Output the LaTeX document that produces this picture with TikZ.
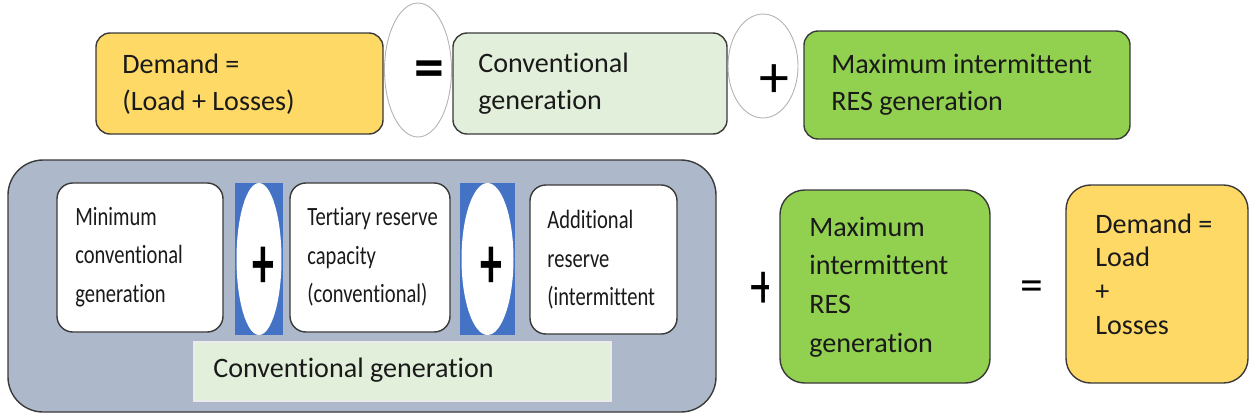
\documentclass[tikz,border=0pt]{standalone}
\usepackage{fontspec}
\setmainfont{Carlito}[Ligatures=NoCommon]
\newfontfamily\narrowfont{Carlito}[FakeStretch=0.78, Ligatures=NoCommon]
\usetikzlibrary{shapes.geometric,fit}

\definecolor{demandfill}{HTML}{FFD966}
\definecolor{convfill}{HTML}{E2EFDA}
\definecolor{resfill}{HTML}{92D050}
\definecolor{groupfill}{HTML}{ADB9CA}
\definecolor{opfill}{HTML}{4472C4}
\definecolor{edge}{HTML}{3A3A3A}
\definecolor{ink}{HTML}{1A1A1A}

\tikzset{
  box/.style={draw=edge, line width=0.8pt, rounded corners=8pt, inner sep=0pt},
  whitebox/.style={box, fill=white, rounded corners=9pt},
  txt/.style={anchor=west, align=left, inner sep=0pt, text=ink,
    font=\fontsize{16}{21}\selectfont},
  smalltxt/.style={anchor=west, align=left, inner sep=0pt, text=ink,
    font=\narrowfont\fontsize{15}{22}\selectfont},
  oval/.style={ellipse, draw=black!30, line width=0.5pt, fill=white, inner sep=0pt},
  opbar/.style={fill=opfill, draw=none, inner sep=0pt},
  opoval/.style={ellipse, fill=white, draw=none, inner sep=0pt},
  sym/.style={inner sep=0pt, text=black},
  tallplus/.style={sym, font=\fontsize{25}{25}\selectfont\bfseries, yscale=1.7},
}

\begin{document}
\begin{tikzpicture}[x=0.02cm, y=-0.02cm]
\useasboundingbox (0,0) rectangle (1250,417);

% ---- top equation ----
\node (dem1) [box, fill=demandfill, fit={(96,33) (383,134)}] {};
\node (dem1t) [txt] at (122,84) {Demand =\\(Load + Losses)};

\node (eqov) [oval, minimum width=1.34cm, minimum height=2.68cm] at (418,70) {};
\node (eqs) [sym, font=\fontsize{34}{34}\selectfont\bfseries] at (429,74) {=};

\node (conv1) [box, fill=convfill, fit={(453,33) (727,134)}] {};
\node (conv1t) [txt] at (478,84) {Conventional\\generation};

\node (plov) [oval, minimum width=1.4cm, minimum height=2.08cm] at (763,66) {};
\node (pls) [sym, font=\fontsize{34}{34}\selectfont] at (774,81) {+};

\node (res1) [box, fill=resfill, fit={(804,31) (1130,139)}] {};
\node (res1t) [txt] at (831,85) {Maximum intermittent\\RES generation};

% ---- bottom equation ----
\node (grp) [box, fill=groupfill, rounded corners=20pt, fit={(8,160) (716,412)}] {};

\node (minc) [whitebox, fit={(57,183) (223,332)}] {};
\node (minct) [smalltxt] at (75,257) {Minimum\\conventional\\generation};

\node (op1) [opbar, fit={(235,183) (283,335)}] {};
\node (op1o) [opoval, minimum width=0.9cm, minimum height=3.04cm] at (259,259) {};
\node (op1s) [tallplus] at (263,268) {+};

\node (tert) [whitebox, fit={(290,183) (450,332)}] {};
\node (tertt) [smalltxt] at (307,257) {Tertiary reserve\\capacity\\(conventional)};

\node (op2) [opbar, fit={(460,183) (515,335)}] {};
\node (op2o) [opoval, minimum width=1.04cm, minimum height=3.04cm] at (487.5,259) {};
\node (op2s) [tallplus] at (491,268) {+};

\node (addr) [whitebox, fit={(530,185) (677,334)}] {};
\node (addrt) [smalltxt] at (547,260) {Additional\\reserve\\(intermittent};

\node (conv2) [draw=white!92!black, line width=0.6pt, fill=convfill, inner sep=0pt, fit={(194,342) (611,401)}] {};
\node (conv2t) [txt] at (213,370) {Conventional generation};

% plus sign cut off just before the green box
\begin{scope}
  \clip (740,265) rectangle (768,320);
  \node (pl2) [sym, font=\fontsize{30}{30}\selectfont, yscale=1.25] at (764,290) {+};
\end{scope}

\node (res2) [box, fill=resfill, rounded corners=14pt, fit={(780,190) (990,383)}] {};
\node (res2t) [txt, font=\fontsize{16}{22}\selectfont] at (809,287) {Maximum\\intermittent\\RES\\generation};

\node (eq2) [sym, font=\fontsize{26}{26}\selectfont] at (1032,291) {=};

\node (dem2) [box, fill=demandfill, rounded corners=14pt, fit={(1066,185) (1248,383)}] {};
\node (dem2t) [txt, font=\fontsize{16}{19.2}\selectfont] at (1095,274) {Demand =\\Load\\+\\Losses};
\end{tikzpicture}
\end{document}
